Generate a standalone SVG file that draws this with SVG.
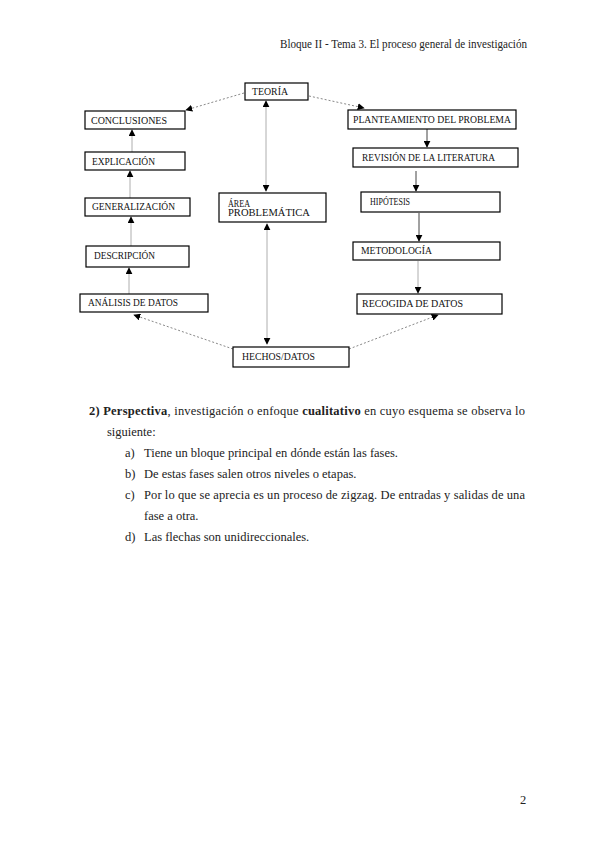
<svg xmlns="http://www.w3.org/2000/svg" width="600" height="848" viewBox="0 0 600 848">
<style>
  .box{fill:#fff;stroke:#000;stroke-width:1.2}
  .lbl{font-family:"Liberation Serif",serif;font-size:9.5px;fill:#111}
  .body{font-family:"Liberation Serif",serif;font-size:12.5px;fill:#222}
  .solid{stroke:#444;stroke-width:1;fill:none}
  .light{stroke:#999;stroke-width:0.8;fill:none}
  .dot{stroke:#888;stroke-width:1;stroke-dasharray:2 2;fill:none}
</style>
<defs>
  <marker id="ah" viewBox="0 0 10 10" refX="9" refY="5" markerWidth="7" markerHeight="7" orient="auto-start-reverse" markerUnits="userSpaceOnUse">
    <path d="M0,0 L10,5 L0,10 z" fill="#000"/>
  </marker>
</defs>
<rect width="600" height="848" fill="#fff"/>
<text class="body" x="280" y="48" font-size="12" textLength="247" lengthAdjust="spacingAndGlyphs">Bloque II - Tema 3. El proceso general de investigación</text>

<g id="connectors">
  <path class="dot" d="M244,93 L186,110" marker-end="url(#ah)"/>
  <path class="dot" d="M309,96 L364,108" marker-end="url(#ah)"/>
  <path class="dot" d="M233,349 L134,315" marker-end="url(#ah)"/>
  <path class="dot" d="M349,349 L438,315" marker-end="url(#ah)"/>
  <path class="light" d="M266,101 L266,191" marker-start="url(#ah)" marker-end="url(#ah)"/>
  <path class="light" d="M267,224 L267,344" marker-start="url(#ah)" marker-end="url(#ah)"/>
  <path class="solid" d="M427,129 L427,147" marker-end="url(#ah)"/>
  <path class="solid" d="M416,171 L416,191" marker-end="url(#ah)"/>
  <path class="solid" d="M419,213 L419,241" marker-end="url(#ah)"/>
  <path class="light" d="M418,261 L418,293" marker-end="url(#ah)"/>
  <path class="light" d="M129,294 L129,268" marker-end="url(#ah)"/>
  <path class="light" d="M131,246 L131,217" marker-end="url(#ah)"/>
  <path class="light" d="M130,198 L130,171" marker-end="url(#ah)"/>
  <path class="light" d="M132,152 L132,130" marker-end="url(#ah)"/>
</g>

<g id="teoria"><rect class="box" x="245" y="83" width="63" height="17"/><text class="lbl" x="252" y="95" textLength="36" lengthAdjust="spacingAndGlyphs">TEORÍA</text></g>
<g id="conclusiones"><rect class="box" x="85" y="111" width="100" height="18"/><text class="lbl" x="91" y="124" textLength="76" lengthAdjust="spacingAndGlyphs">CONCLUSIONES</text></g>
<g id="explicacion"><rect class="box" x="85" y="152" width="100" height="18"/><text class="lbl" x="92" y="165" textLength="63" lengthAdjust="spacingAndGlyphs">EXPLICACIÓN</text></g>
<g id="generalizacion"><rect class="box" x="85" y="198" width="105" height="18"/><text class="lbl" x="92" y="210" textLength="83" lengthAdjust="spacingAndGlyphs">GENERALIZACIÓN</text></g>
<g id="descripcion"><rect class="box" x="86" y="246" width="103" height="21"/><text class="lbl" x="94" y="259" textLength="61" lengthAdjust="spacingAndGlyphs">DESCRIPCIÓN</text></g>
<g id="analisis"><rect class="box" x="80" y="294" width="128" height="18"/><text class="lbl" x="88" y="306" textLength="90" lengthAdjust="spacingAndGlyphs">ANÁLISIS DE DATOS</text></g>
<g id="area"><rect class="box" x="219" y="193" width="107" height="29"/><text class="lbl" x="228" y="207" textLength="22" lengthAdjust="spacingAndGlyphs">ÁREA</text><text class="lbl" x="228" y="216" textLength="82" lengthAdjust="spacingAndGlyphs">PROBLEMÁTICA</text></g>
<g id="hechos"><rect class="box" x="233" y="347" width="116" height="20"/><text class="lbl" x="242" y="360" textLength="73" lengthAdjust="spacingAndGlyphs">HECHOS/DATOS</text></g>
<g id="planteamiento"><rect class="box" x="348" y="110" width="168" height="19"/><text class="lbl" x="353" y="123" textLength="158" lengthAdjust="spacingAndGlyphs">PLANTEAMIENTO DEL PROBLEMA</text></g>
<g id="revision"><rect class="box" x="353" y="148" width="165" height="19"/><text class="lbl" x="362" y="161" textLength="133" lengthAdjust="spacingAndGlyphs">REVISIÓN DE LA LITERATURA</text></g>
<g id="hipotesis"><rect class="box" x="361" y="192" width="139" height="20"/><text class="lbl" x="370" y="205" textLength="40" lengthAdjust="spacingAndGlyphs">HIPÓTESIS</text></g>
<g id="metodologia"><rect class="box" x="353" y="242" width="147" height="18"/><text class="lbl" x="361" y="254" textLength="71" lengthAdjust="spacingAndGlyphs">METODOLOGÍA</text></g>
<g id="recogida"><rect class="box" x="357" y="294" width="145" height="20"/><text class="lbl" x="362" y="307" textLength="101" lengthAdjust="spacingAndGlyphs">RECOGIDA DE DATOS</text></g>

<text class="body" x="89" y="415" textLength="436" lengthAdjust="spacing"><tspan font-weight="bold">2) Perspectiva</tspan>, investigación o enfoque <tspan font-weight="bold">cualitativo</tspan> en cuyo esquema se observa lo</text>
<text class="body" x="107" y="436">siguiente:</text>
<text class="body" x="125" y="457">a)</text><text class="body" x="144" y="457">Tiene un bloque principal en dónde están las fases.</text>
<text class="body" x="125" y="478">b)</text><text class="body" x="144" y="478">De estas fases salen otros niveles o etapas.</text>
<text class="body" x="125" y="499">c)</text><text class="body" x="144" y="499" textLength="381" lengthAdjust="spacing">Por lo que se aprecia es un proceso de zigzag. De entradas y salidas de una</text>
<text class="body" x="144" y="520">fase a otra.</text>
<text class="body" x="125" y="541">d)</text><text class="body" x="144" y="541">Las flechas son unidireccionales.</text>
<text class="body" x="520" y="804">2</text>
</svg>
